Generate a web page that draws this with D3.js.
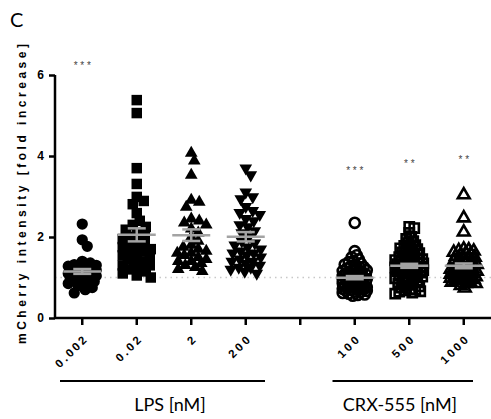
<!DOCTYPE html>
<html>
<head>
<meta charset="utf-8">
<script src="https://cdn.jsdelivr.net/npm/d3@7"></script>
<style>
  body { margin: 0; background: #fff; }
  svg { display: block; }
</style>
</head>
<body>
<div id="chart"></div>
<script>
// Tick labels on the x axis (index 4 is the empty gap between the two groups)
const tickLabels = ["0.002", "0.02", "2", "200", "", "100", "500", "1000"];

// mCherry fold increase
const lps0002 = [2.32, 1.93, 1.77, 1.40, 1.36, 1.32, 1.28, 1.25, 1.22, 1.20, 1.18, 1.15, 1.12, 1.10,
  1.08, 1.05, 1.02, 1.00, 0.98, 0.95, 0.92, 0.88, 0.85, 0.80, 0.75, 0.70, 0.62, 1.30, 1.24, 1.16, 1.10, 1.04, 0.90];
const lps002 = [5.38, 5.06, 3.70, 3.31, 2.99, 2.89, 2.81, 2.59, 2.40, 2.30, 2.25, 2.18, 2.10, 2.05, 2.00,
  1.95, 1.90, 1.85, 1.80, 1.75, 1.70, 1.65, 1.60, 1.55, 1.50, 1.45, 1.40, 1.35, 1.30, 1.25, 1.20, 1.15,
  1.10, 1.05, 1.00, 1.70, 1.50, 1.30];
const lps2 = [4.07, 3.88, 3.53, 2.91, 2.86, 2.74, 2.45, 2.40, 2.35, 2.30, 2.20, 2.10, 2.00, 1.90, 1.80,
  1.75, 1.70, 1.65, 1.60, 1.55, 1.50, 1.45, 1.40, 1.35, 1.30, 1.25, 1.20, 1.15, 1.60, 1.40];
const lps200 = [3.70, 3.53, 3.11, 2.99, 2.94, 2.75, 2.65, 2.60, 2.55, 2.45, 2.40, 2.30, 2.25, 2.15, 2.10,
  2.00, 1.90, 1.85, 1.80, 1.75, 1.70, 1.65, 1.60, 1.55, 1.50, 1.45, 1.40, 1.35, 1.30, 1.25, 1.20, 1.15,
  1.10, 1.60, 1.40, 1.25];
const crx100 = [2.35, 1.65, 1.55, 1.50, 1.45, 1.40, 1.38, 1.35, 1.30, 1.28, 1.25, 1.20, 1.18, 1.15, 1.12,
  1.10, 1.08, 1.05, 1.02, 1.00, 0.98, 0.96, 0.94, 0.92, 0.90, 0.88, 0.86, 0.84, 0.82, 0.80, 0.78, 0.76,
  0.74, 0.72, 0.70, 0.68, 0.65, 0.62, 0.58, 0.55, 0.75, 0.70, 1.00, 0.95, 0.85,
  1.32, 1.26, 1.22, 1.16, 1.12, 1.08, 1.04, 1.00, 0.97, 0.93, 0.90, 0.87, 0.83, 0.79, 0.75, 0.71,
  0.67, 0.64, 0.60, 0.57];
const crx500 = [2.25, 2.22, 2.10, 2.00, 1.95, 1.90, 1.85, 1.80, 1.75, 1.72, 1.70, 1.65, 1.60, 1.58, 1.55,
  1.50, 1.48, 1.45, 1.42, 1.40, 1.38, 1.35, 1.32, 1.30, 1.28, 1.25, 1.22, 1.20, 1.18, 1.15, 1.12, 1.10,
  1.05, 1.00, 0.95, 0.90, 0.85, 0.80, 0.75, 0.70, 0.66, 0.63, 0.60, 1.25, 1.15, 1.05, 0.68, 0.65,
  1.78, 1.68, 1.62, 1.52, 1.46, 1.43, 1.36, 1.33, 1.27, 1.23, 1.19, 1.14, 1.08, 1.02, 0.98, 0.92,
  0.88, 0.82, 0.78, 0.72];
const crx1000 = [3.04, 2.47, 2.12, 1.70, 1.68, 1.65, 1.62, 1.60, 1.55, 1.50, 1.45, 1.40, 1.35, 1.30, 1.25,
  1.22, 1.20, 1.18, 1.15, 1.12, 1.10, 1.08, 1.05, 1.02, 1.00, 0.98, 0.95, 0.92, 0.88, 0.85, 0.80, 0.74,
  1.00, 0.95, 0.90, 0.85, 1.66, 1.58, 1.52, 1.46, 1.42, 1.37, 1.32, 1.27, 1.21, 1.16, 1.11, 1.06,
  1.01, 0.97, 0.93];

// significance stars and the height they sit at
const starText = ["* * *", "", "", "", "", "* * *", "* *", "* *"];
const starValue = [6.15, null, null, null, null, 3.55, 3.72, 3.82];

const yTicks = [0, 2, 4, 6];

const W = 491, H = 419;
const svg = d3.select("#chart").append("svg").attr("width", W).attr("height", H);

const x = d3.scaleBand().domain(d3.range(tickLabels.length)).range([55, 491]);
const y = d3.scaleLinear().domain([0, 6]).range([318, 75]);
const cx = i => x(i) + x.bandwidth() / 2;

// series: index on axis, data, symbol, filled?
const series = [
  { idx: 0, data: lps0002, sym: d3.symbolCircle, size: 100, fill: true, rot: 0, d: 8, spread: 14 },
  { idx: 1, data: lps002, sym: d3.symbolSquare, size: 110, fill: true, rot: 0, d: 8, spread: 14 },
  { idx: 2, data: lps2, sym: d3.symbolTriangle, size: 70, fill: true, rot: 0, d: 8, spread: 15 },
  { idx: 3, data: lps200, sym: d3.symbolTriangle, size: 70, fill: true, rot: 180, d: 8, spread: 15 },
  { idx: 5, data: crx100, sym: d3.symbolCircle, size: 80, fill: false, rot: 0, d: 4.5, spread: 12 },
  { idx: 6, data: crx500, sym: d3.symbolSquare, size: 85, fill: false, rot: 0, d: 4.5, spread: 14 },
  { idx: 7, data: crx1000, sym: d3.symbolTriangle, size: 60, fill: false, rot: 0, d: 4.5, spread: 13 },
];

// simple deterministic beeswarm: only spreads points sideways
function swarm(values, center, d, spread) {
  const pts = values.map(v => ({ v, py: y(v) })).sort((a, b) => b.v - a.v);
  const placed = [];
  pts.forEach(p => {
    let best = 0, bestScore = -1;
    for (let k = 0; k <= spread * 2; k++) {
      const off = (k % 2 ? 1 : -1) * Math.ceil(k / 2);
      let minD = Infinity;
      placed.forEach(q => {
        const dd = Math.hypot(q.px - (center + off), q.py - p.py);
        if (dd < minD) minD = dd;
      });
      if (minD >= d) { best = off; bestScore = Infinity; break; }
      if (minD > bestScore) { bestScore = minD; best = off; }
    }
    p.px = center + best;
    placed.push(p);
  });
  return placed;
}

// dotted line at 1
svg.append("line")
  .attr("x1", 55).attr("x2", 491)
  .attr("y1", y(1)).attr("y2", y(1))
  .attr("stroke", "#c8c8c8").attr("stroke-width", 1.5)
  .attr("stroke-dasharray", "1.5,4");

// points
series.forEach(s => {
  const pts = swarm(s.data, cx(s.idx), s.d, s.spread);
  svg.append("g").selectAll("path")
    .data(pts)
    .enter().append("path")
    .attr("d", d3.symbol().type(s.sym).size(s.size))
    .attr("transform", p => `translate(${p.px},${p.py}) rotate(${s.rot})`)
    .attr("fill", s.fill ? "#000" : "none")
    .attr("stroke", "#000")
    .attr("stroke-width", s.fill ? 0 : 2.6);
});

// mean +/- SEM in grey
const grey = "#a3a3a3";
series.forEach(s => {
  const m = d3.mean(s.data);
  const sem = d3.deviation(s.data) / Math.sqrt(s.data.length);
  const g = svg.append("g").attr("stroke", grey).attr("stroke-width", 2.5).attr("fill", "none");
  const c = cx(s.idx);
  g.append("line").attr("x1", c - 19).attr("x2", c + 19).attr("y1", y(m)).attr("y2", y(m));
  g.append("line").attr("x1", c).attr("x2", c).attr("y1", y(m - sem)).attr("y2", y(m + sem));
  [m - sem, m + sem].forEach(v => {
    g.append("line").attr("x1", c - 9).attr("x2", c + 9).attr("y1", y(v)).attr("y2", y(v));
  });
});

// stars
svg.append("g").selectAll("text")
  .data(starText.map((t, i) => ({ t, i })).filter(o => o.t))
  .enter().append("text")
  .attr("x", o => cx(o.i))
  .attr("y", o => y(starValue[o.i]))
  .attr("text-anchor", "middle")
  .attr("font-family", "Liberation Sans, Arial, sans-serif")
  .attr("font-size", 10)
  .attr("fill", "#444")
  .text(o => o.t);

// y axis
const yAxis = svg.append("g")
  .attr("transform", "translate(55,0)")
  .call(d3.axisLeft(y).tickValues(yTicks).tickSize(6).tickPadding(5).tickFormat(d3.format("d")));
yAxis.select(".domain").attr("stroke-width", 2.5).attr("d", `M0,${y(6)}V${y(0)}`);
yAxis.selectAll(".tick line").attr("stroke-width", 2.5);
yAxis.selectAll(".tick text")
  .attr("font-family", "Liberation Sans, Arial, sans-serif")
  .attr("font-size", 12).attr("font-weight", "bold").attr("fill", "#000");

// x axis
const xAxis = svg.append("g")
  .attr("transform", `translate(0,${y(0)})`)
  .call(d3.axisBottom(x).tickSize(7).tickFormat(i => tickLabels[i]));
xAxis.select(".domain").attr("stroke-width", 2.5).attr("d", "M55,0H491");
xAxis.selectAll(".tick line").attr("stroke-width", 2.5);
xAxis.selectAll(".tick text")
  .attr("font-family", "Liberation Sans, Arial, sans-serif")
  .attr("font-size", 11.5).attr("font-weight", "bold").attr("fill", "#000")
  .attr("text-anchor", "end")
  .attr("y", 0).attr("dy", 0)
  .attr("transform", "translate(5,23) rotate(-45)")
  .each(function () {
    // spread the letters like the original
    const n = this.textContent.length;
    if (n) {
      d3.select(this).attr("lengthAdjust", "spacing")
        .attr("textLength", this.getComputedTextLength() + n * 2);
    }
  });

// group bars under the axis
const groupBars = [
  { name: "LPS [nM]", from: 0, to: 3, x1: 5, x2: -8, tx: 170 },
  { name: "CRX-555 [nM]", from: 5, to: 7, x1: 5, x2: -18, tx: 400 },
];
groupBars.forEach(b => {
  svg.append("line")
    .attr("x1", x(b.from) + b.x1).attr("x2", x(b.to) + x.bandwidth() + b.x2)
    .attr("y1", 381).attr("y2", 381)
    .attr("stroke", "#000").attr("stroke-width", 2);
  svg.append("text")
    .attr("x", b.tx).attr("y", 411)
    .attr("text-anchor", "middle")
    .attr("font-family", "Lato, Open Sans, sans-serif")
    .attr("font-size", 18)
    .text(b.name);
});

// y title
svg.append("text")
  .attr("transform", "translate(26,194) rotate(-90)")
  .attr("text-anchor", "middle")
  .attr("font-family", "Liberation Sans, Arial, sans-serif")
  .attr("font-size", 12).attr("font-weight", "bold")
  .attr("lengthAdjust", "spacing")
  .attr("textLength", 300)
  .text("mCherry intensity [fold increase]");

// panel letter
svg.append("text")
  .attr("x", 10).attr("y", 27)
  .attr("font-family", "Lato, Open Sans, sans-serif")
  .attr("font-size", 20)
  .text("C");
</script>
</body>
</html>
